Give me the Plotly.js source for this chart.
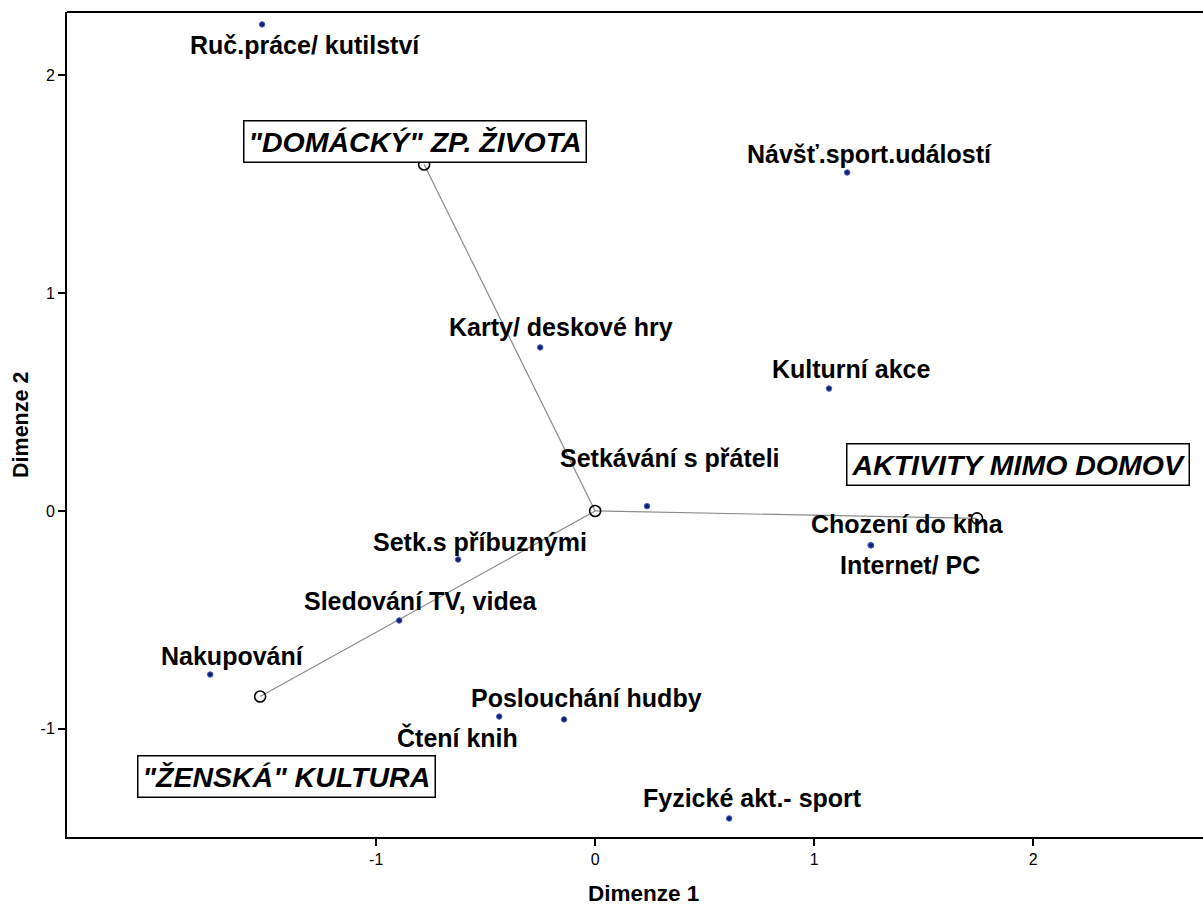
<!DOCTYPE html>
<html>
<head>
<meta charset="utf-8">
<script src="https://cdn.plot.ly/plotly-3.0.1.min.js"></script>
<style>html,body{margin:0;padding:0;background:#fff;}#chart{width:1203px;height:905px;}</style>
</head>
<body>
<div id="chart"></div>
<script>
// ---- data ----
const categories = ["Ruč.práce/ kutilství","Návšť.sport.událostí","Karty/ deskové hry","Kulturní akce",
  "Setkávání s přáteli","Chození do kina","Internet/ PC","Setk.s příbuznými","Sledování TV, videa",
  "Nakupování","Poslouchání hudby","Čtení knih","Fyzické akt.- sport"];
const dim1 = [-1.521, 1.151, -0.251, 1.068, 0.237, 1.258, 1.260, -0.626, -0.895, -1.758, -0.142, -0.438, 0.612];
const dim2 = [2.234, 1.554, 0.751, 0.562, 0.022, -0.157, -0.158, -0.223, -0.503, -0.751, -0.957, -0.944, -1.412];

const groupNames = ['"DOMÁCKÝ" ZP. ŽIVOTA', 'AKTIVITY MIMO DOMOV', '"ŽENSKÁ" KULTURA'];
const groupDim1 = [-0.781, 1.744, -1.530];
const groupDim2 = [1.591, -0.034, -0.852];
const originDim1 = 0, originDim2 = 0;

const xTicks = [-1, 0, 1, 2];
const yTicks = [-1, 0, 1, 2];
const xTitle = "Dimenze 1";
const yTitle = "Dimenze 2";

// ---- styling / label offsets (pixels) ----
const labelShift = [[43,-21],[22,19],[21,20],[22,20],[23,48],[37,21],[39,-20],[22,18],[22,20],[22,19],[22,21],[-42,-21],[23,20]];
const groupShift = [[-9,23],[41,54],[26,-80]];

const FONT = "Arial, 'Liberation Sans', sans-serif";

// vectors from origin to group centroids
const lx = [], ly = [];
groupDim1.forEach((v, i) => { lx.push(originDim1, v, null); ly.push(originDim2, groupDim2[i], null); });

const traces = [
  {x: lx, y: ly, mode: 'lines', line: {color: '#8a8a8a', width: 1.2}, hoverinfo: 'skip', showlegend: false},
  {x: [originDim1].concat(groupDim1), y: [originDim2].concat(groupDim2), mode: 'markers',
   marker: {symbol: 'circle-open', size: 11, color: '#000', line: {width: 1.6, color: '#000'}}, showlegend: false},
  {x: dim1, y: dim2, text: categories, mode: 'markers',
   marker: {size: 5.5, color: '#14206b', line: {width: 1, color: '#4661c4'}}, showlegend: false}
];

const annotations = [];
categories.forEach((c, i) => {
  annotations.push({x: dim1[i], y: dim2[i], xref: 'x', yref: 'y', text: c, showarrow: false,
    xshift: labelShift[i][0], yshift: labelShift[i][1],
    font: {family: FONT, size: 25, color: '#000', weight: 'bold'}});
});
groupNames.forEach((g, i) => {
  annotations.push({x: groupDim1[i], y: groupDim2[i], xref: 'x', yref: 'y', text: g, showarrow: false,
    xshift: groupShift[i][0], yshift: groupShift[i][1],
    bgcolor: '#fff', bordercolor: '#000', borderwidth: 1.5, borderpad: 4,
    font: {family: FONT, size: 28.5, color: '#000', weight: 'bold', style: 'italic'}});
});
annotations.push({xref: 'paper', yref: 'paper', x: 0.5079, y: -0.068, text: xTitle, showarrow: false,
  xanchor: 'center', yanchor: 'middle', font: {family: FONT, size: 22.5, color: '#000', weight: 'bold'}});
annotations.push({xref: 'paper', yref: 'paper', x: -0.0405, y: 0.4994, text: yTitle, showarrow: false, textangle: -90,
  xanchor: 'center', yanchor: 'middle', font: {family: FONT, size: 21.5, color: '#000', weight: 'bold'}});

const axisCommon = {showgrid: false, zeroline: false, showline: true, linecolor: '#000', linewidth: 2,
  ticks: 'outside', ticklen: 7, tickwidth: 2, tickcolor: '#000',
  tickfont: {family: FONT, size: 16, color: '#000'}, fixedrange: true};

const layout = {
  width: 1203, height: 905,
  margin: {l: 67, r: 0, t: 12, b: 68, pad: 0},
  paper_bgcolor: '#fff', plot_bgcolor: '#fff',
  font: {family: FONT},
  xaxis: Object.assign({}, axisCommon, {range: [-2.412, 2.776], tickmode: 'array', tickvals: xTicks, ticktext: xTicks.map(String)}),
  yaxis: Object.assign({}, axisCommon, {range: [-1.497, 2.291], tickmode: 'array', tickvals: yTicks, ticktext: yTicks.map(String)}),
  shapes: [{type: 'line', xref: 'paper', yref: 'paper', x0: 0, x1: 1, y0: 1, y1: 1, line: {color: '#000', width: 2}}],
  annotations: annotations,
  showlegend: false
};

Plotly.newPlot('chart', traces, layout, {displayModeBar: false, staticPlot: true});
</script>
</body>
</html>
